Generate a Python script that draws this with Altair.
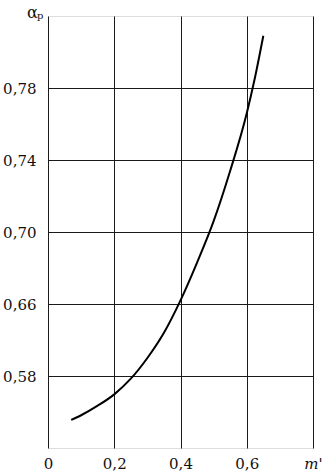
import altair as alt
import pandas as pd

m_vals = [0.07, 0.10, 0.15, 0.20, 0.25, 0.30, 0.35, 0.40, 0.45, 0.50, 0.55, 0.60, 0.625, 0.65]
alpha_vals = [0.5956, 0.5982, 0.6035, 0.6098, 0.6185, 0.630, 0.644, 0.662, 0.683, 0.706, 0.734, 0.766, 0.786, 0.809]

x_ticks = [0, 0.2, 0.4, 0.6, 0.8]
y_ticks = [0.62, 0.66, 0.70, 0.74, 0.78]

df = pd.DataFrame({"m": m_vals, "a": alpha_vals})

FONT = "DejaVu Serif"

x_axis = alt.Axis(
    values=x_ticks, grid=True, gridColor="#1a1a1a", gridWidth=1, gridOpacity=1,
    ticks=False, domain=False, labelFont=FONT, labelFontSize=15, labelColor="#111",
    labelPadding=8, title=None, labelFlush=False,
    labelExpr="datum.value >= 0.79 ? \"m'\" : (datum.value == 0 ? '0' : replace(format(datum.value, '.1f'), '.', ','))",
    labelFontStyle={"condition": {"test": "datum.value >= 0.79", "value": "italic"}, "value": "normal"},
)
y_axis = alt.Axis(
    values=y_ticks, grid=True, gridColor="#1a1a1a", gridWidth=1, gridOpacity=1,
    ticks=False, domain=False, labelFont=FONT, labelFontSize=15, labelColor="#111",
    labelPadding=12, title="α", titleFont=FONT, titleFontSize=16, titleFontWeight="normal",
    titleAngle=0, titleX=-16, titleY=1, titleAlign="center", titleBaseline="alphabetic", titleColor="#111",
    labelExpr="datum.value < 0.63 ? '0,58' : replace(format(datum.value, '.2f'), '.', ',')",
)

line = alt.Chart(df).mark_line(color="black", strokeWidth=2, interpolate="monotone").encode(
    x=alt.X("m:Q", scale=alt.Scale(domain=[0, 0.8], nice=False, zero=False), axis=x_axis),
    y=alt.Y("a:Q", scale=alt.Scale(domain=[0.58, 0.82], nice=False, zero=False), axis=y_axis),
)

sub = alt.Chart(pd.DataFrame({"t": ["p"]})).mark_text(
    font=FONT, fontSize=10, align="left", baseline="alphabetic", color="#111"
).encode(x=alt.value(-11), y=alt.value(3), text="t:N")

chart = alt.layer(line, sub).properties(
    width=265, height=432,
    autosize=alt.AutoSizeParams(type="none"),
    padding={"left": 48, "top": 16, "right": 22, "bottom": 25},
).configure_view(stroke="black", strokeWidth=1.2).configure(background="white")

chart.save("out.html", embed_options={"renderer": "svg", "actions": False})
